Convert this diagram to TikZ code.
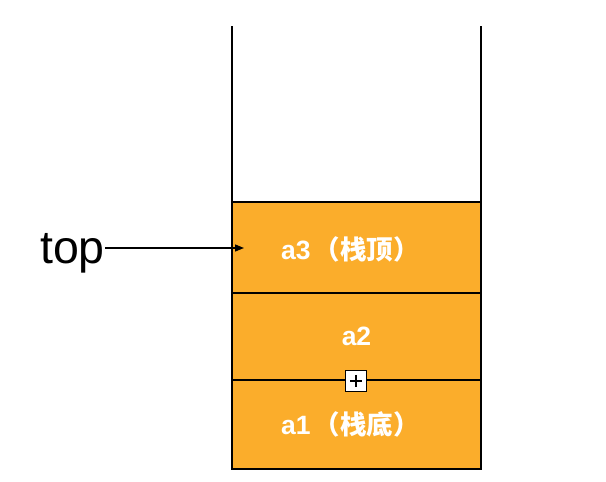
\documentclass[tikz,border=0pt]{standalone}
\usepackage{fontspec}
\setmainfont{Liberation Sans}
\newfontfamily\cjk{Noto Sans CJK SC}
\usetikzlibrary{arrows.meta}
\definecolor{cellorange}{HTML}{FBAD2B}
\tikzset{
  cell/.style={draw=black, line width=2pt, fill=cellorange, minimum width=249pt, inner sep=0pt, outer sep=0pt},
  wall/.style={draw=black, line width=2pt},
  lbl/.style={text=white, inner sep=0pt, font=\fontsize{26.5}{30}\selectfont\bfseries},
  toplbl/.style={inner sep=0pt, font=\fontsize{46.5}{54}\selectfont},
  arr/.style={draw=black, line width=1.3pt, -{Triangle[length=9pt,width=7pt]}},
  plusbox/.style={draw=black, line width=1.5pt, fill=white, minimum size=21pt, inner sep=0pt,
    path picture={\draw[line width=1.5pt] ([xshift=-6pt]path picture bounding box.center) -- ([xshift=6pt]path picture bounding box.center);
                  \draw[line width=1.5pt] ([yshift=-6pt]path picture bounding box.center) -- ([yshift=6pt]path picture bounding box.center);}}
}
\begin{document}
\begin{tikzpicture}[x=1pt,y=-1pt]
\useasboundingbox (0,0) rectangle (606,482);
% walls
\coordinate (wlt) at (232,26);
\coordinate (wlb) at (232,470);
\coordinate (wrt) at (481,26);
\coordinate (wrb) at (481,470);
\draw[wall] (wlt) -- (wlb);
\draw[wall] (wrt) -- (wrb);
% cells
\node[cell, minimum height=91pt] (c3) at (356.5,247.5) {};
\node[cell, minimum height=87pt] (c2) at (356.5,336.5) {};
\node[cell, minimum height=89pt] (c1) at (356.5,424.5) {};
% labels
\node[lbl, anchor=base west] (l3) at (281,259.5) {a3\hspace{3pt}{\cjk\bfseries （栈顶）}};
\node[lbl, anchor=base] (l2) at (356.5,345) {a2};
\node[lbl, anchor=base west] (l1) at (281,434) {a1\hspace{3pt}{\cjk\bfseries （栈底）}};
% plus marker
\node[plusbox] (plus) at (356,381) {};
% top pointer
\node[toplbl, anchor=base west] (top) at (40,263) {top};
\coordinate (tip) at (244,248);
\draw[arr] (top.east |- tip) -- (tip);
\end{tikzpicture}
\end{document}
